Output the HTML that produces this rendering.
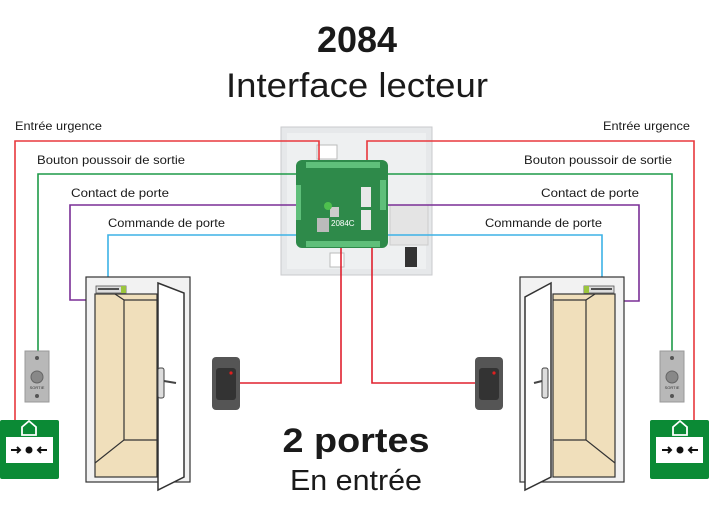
<!DOCTYPE html>
<html><head><meta charset="utf-8"><style>
html,body{margin:0;padding:0;background:#fff;width:709px;height:505px;overflow:hidden}
svg{display:block}
text{font-family:"Liberation Sans",sans-serif}
</style></head><body>
<svg width="709" height="505" viewBox="0 0 709 505" xmlns="http://www.w3.org/2000/svg">
<!-- titles -->
<text x="357" y="52" text-anchor="middle" font-size="36" font-weight="bold" fill="#1a1a1a">2084</text>
<text x="357" y="97" text-anchor="middle" font-size="34" fill="#1a1a1a" textLength="262" lengthAdjust="spacingAndGlyphs">Interface lecteur</text>
<text x="356" y="452" text-anchor="middle" font-size="34" font-weight="bold" fill="#1a1a1a" textLength="147" lengthAdjust="spacingAndGlyphs">2 portes</text>
<text x="356" y="490" text-anchor="middle" font-size="29" fill="#1a1a1a" textLength="132" lengthAdjust="spacingAndGlyphs">En entrée</text>
<!-- labels -->
<g font-size="12" fill="#1a1a1a">
<text x="15" y="130" textLength="87" lengthAdjust="spacingAndGlyphs">Entrée urgence</text>
<text x="37" y="164" textLength="148" lengthAdjust="spacingAndGlyphs">Bouton poussoir de sortie</text>
<text x="71" y="197" textLength="98" lengthAdjust="spacingAndGlyphs">Contact de porte</text>
<text x="108" y="227" textLength="117" lengthAdjust="spacingAndGlyphs">Commande de porte</text>
<text x="690" y="130" text-anchor="end" textLength="87" lengthAdjust="spacingAndGlyphs">Entrée urgence</text>
<text x="672" y="164" text-anchor="end" textLength="148" lengthAdjust="spacingAndGlyphs">Bouton poussoir de sortie</text>
<text x="639" y="197" text-anchor="end" textLength="98" lengthAdjust="spacingAndGlyphs">Contact de porte</text>
<text x="602" y="227" text-anchor="end" textLength="117" lengthAdjust="spacingAndGlyphs">Commande de porte</text>
</g>
<!-- enclosure -->
<rect x="281" y="127" width="151" height="148" fill="#e6e8ea" stroke="#c8cacc"/>
<rect x="287" y="133" width="139" height="136" fill="#eef0f1"/>
<rect x="317" y="145" width="20" height="14" fill="#fff" stroke="#bbb"/>
<rect x="330" y="253" width="14" height="14" fill="#fff" stroke="#bbb"/>
<rect x="390" y="205" width="38" height="40" fill="#e4e4e4" stroke="#ccc"/>
<rect x="405" y="247" width="12" height="20" fill="#333"/>
<!-- wires -->
<g fill="none" stroke-width="1.6">
<polyline stroke="#e8383d" points="15,420 15,141 319,141 319,162"/>
<polyline stroke="#e8383d" points="694,420 694,141 367,141 367,162"/>
<polyline stroke="#1e9a48" points="38,352 38,174 300,174"/>
<polyline stroke="#1e9a48" points="672,352 672,174 385,174"/>
<polyline stroke="#7a2f96" points="95,300 70,300 70,205 300,205"/>
<polyline stroke="#7a2f96" points="615,301 639,301 639,205 385,205"/>
<polyline stroke="#3db2e6" points="108,287 108,235 300,235"/>
<polyline stroke="#3db2e6" points="602,287 602,235 385,235"/>
<polyline stroke="#e0202e" points="240,383 341,383 341,246"/>
<polyline stroke="#e0202e" points="475,383 372,383 372,246"/>
</g>
<!-- PCB -->
<rect x="296" y="160" width="92" height="88" rx="6" fill="#2e8a4a"/>
<rect x="306" y="162" width="74" height="6" fill="#5fbf7a"/>
<rect x="306" y="241" width="74" height="6" fill="#5fbf7a"/>
<rect x="296" y="185" width="5" height="35" fill="#5fbf7a"/>
<rect x="380" y="180" width="6" height="30" fill="#5fbf7a"/>
<rect x="361" y="187" width="10" height="20" fill="#e8e8e8"/>
<rect x="361" y="210" width="10" height="20" fill="#e8e8e8"/>
<rect x="317" y="218" width="12" height="14" fill="#bbb"/>
<rect x="330" y="207" width="9" height="10" fill="#ccc"/>
<circle cx="328" cy="206" r="4" fill="#4ec04e"/>
<text x="331" y="226" font-size="8" fill="#fff">2084C</text>
<!-- left door -->
<rect x="86" y="277" width="104" height="205" fill="#f2f2f2" stroke="#333" stroke-width="1.2"/>
<rect x="95" y="294" width="62" height="183" fill="#f0dfbb" stroke="#333" stroke-width="1.2"/>
<polyline points="115,294 124,300 124,440 95,463" fill="none" stroke="#333" stroke-width="1.2"/>
<line x1="124" y1="300" x2="157" y2="300" stroke="#333" stroke-width="1.2"/>
<line x1="124" y1="440" x2="157" y2="440" stroke="#333" stroke-width="1.2"/>
<rect x="96" y="286" width="30" height="7" fill="#ddd" stroke="#555" stroke-width="0.8"/>
<line x1="98" y1="289" x2="119" y2="289" stroke="#222" stroke-width="1.5"/>
<rect x="121" y="286" width="5" height="7" fill="#9bc53d"/>
<polygon points="158,283 184,293 184,477 158,490" fill="#fff" stroke="#333" stroke-width="1.5"/>
<rect x="158" y="368" width="6" height="30" rx="2" fill="#ddd" stroke="#444"/>
<line x1="164" y1="381" x2="176" y2="383" stroke="#444" stroke-width="2"/>
<!-- right door -->
<rect x="520" y="277" width="104" height="205" fill="#f2f2f2" stroke="#333" stroke-width="1.2"/>
<rect x="553" y="294" width="62" height="183" fill="#f0dfbb" stroke="#333" stroke-width="1.2"/>
<polyline points="595,294 586,300 586,440 615,463" fill="none" stroke="#333" stroke-width="1.2"/>
<line x1="553" y1="300" x2="586" y2="300" stroke="#333" stroke-width="1.2"/>
<line x1="553" y1="440" x2="586" y2="440" stroke="#333" stroke-width="1.2"/>
<rect x="584" y="286" width="30" height="7" fill="#ddd" stroke="#555" stroke-width="0.8"/>
<line x1="591" y1="289" x2="612" y2="289" stroke="#222" stroke-width="1.5"/>
<rect x="584" y="286" width="5" height="7" fill="#9bc53d"/>
<polygon points="551,283 525,297 525,490 551,477" fill="#fff" stroke="#333" stroke-width="1.5"/>
<rect x="542" y="368" width="6" height="30" rx="2" fill="#ddd" stroke="#444"/>
<line x1="542" y1="381" x2="534" y2="383" stroke="#444" stroke-width="2"/>
<!-- readers -->
<rect x="212" y="357" width="28" height="53" rx="4" fill="#555"/>
<rect x="216" y="368" width="20" height="32" rx="3" fill="#333"/>
<circle cx="231" cy="373" r="1.6" fill="#e02020"/>
<rect x="475" y="357" width="28" height="53" rx="4" fill="#555"/>
<rect x="479" y="368" width="20" height="32" rx="3" fill="#333"/>
<circle cx="494" cy="373" r="1.6" fill="#e02020"/>
<!-- exit buttons -->
<g>
<rect x="25" y="351" width="24" height="51" fill="#b8b8b8" stroke="#999"/>
<circle cx="37" cy="358" r="2" fill="#555"/><circle cx="37" cy="377" r="6" fill="#888" stroke="#666"/>
<circle cx="37" cy="396" r="2" fill="#555"/>
<text x="37" y="389" font-size="4" text-anchor="middle" fill="#333">SORTIE</text>
<rect x="660" y="351" width="24" height="51" fill="#b8b8b8" stroke="#999"/>
<circle cx="672" cy="358" r="2" fill="#555"/><circle cx="672" cy="377" r="6" fill="#888" stroke="#666"/>
<circle cx="672" cy="396" r="2" fill="#555"/>
<text x="672" y="389" font-size="4" text-anchor="middle" fill="#333">SORTIE</text>
</g>
<!-- emergency boxes -->
<g>
<rect x="0" y="420" width="59" height="59" rx="2" fill="#0b8a35"/>
<rect x="6" y="437" width="47" height="26" fill="#fff"/>
<path d="M22 435 L22 427 L29 421 L36 427 L36 435 Z" fill="none" stroke="#fff" stroke-width="1.8"/>
<circle cx="29" cy="450" r="3.5" fill="#111"/>
<path d="M11 450 H20 M17 447 L20 450 L17 453" stroke="#111" stroke-width="2" fill="none"/>
<path d="M47 450 H38 M41 447 L38 450 L41 453" stroke="#111" stroke-width="2" fill="none"/>
<rect x="650" y="420" width="59" height="59" rx="2" fill="#0b8a35"/>
<rect x="656" y="437" width="47" height="26" fill="#fff"/>
<path d="M673 435 L673 427 L680 421 L687 427 L687 435 Z" fill="none" stroke="#fff" stroke-width="1.8"/>
<circle cx="680" cy="450" r="3.5" fill="#111"/>
<path d="M662 450 H671 M668 447 L671 450 L668 453" stroke="#111" stroke-width="2" fill="none"/>
<path d="M698 450 H689 M692 447 L689 450 L692 453" stroke="#111" stroke-width="2" fill="none"/>
</g>
</svg>
</body></html>
